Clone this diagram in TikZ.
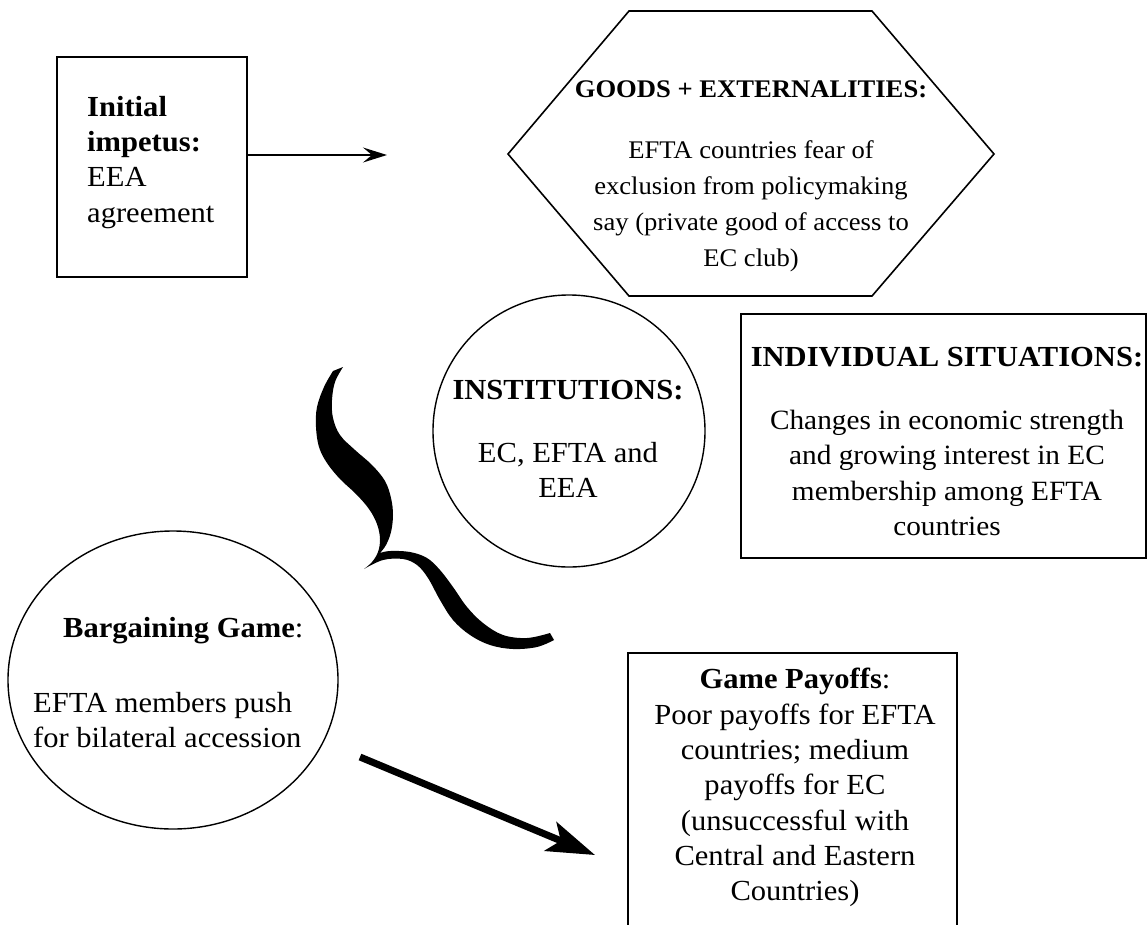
\documentclass[tikz,border=0pt]{standalone}
\usepackage{fontspec}
\setmainfont{Liberation Serif}[FakeStretch=1.05]
\usetikzlibrary{arrows.meta,shapes.geometric}
\newcommand\indivbodyfont{\fontsize{27.9}{34.7}\selectfont}
\begin{document}
\begin{tikzpicture}[x=1pt,y=-1pt,
  boxline/.style={draw, line width=1.6pt, inner sep=0pt},
  roundline/.style={draw, line width=1.4pt, inner sep=0pt},
  txt/.style={inner sep=0pt, font=\fontsize{29.1}{35.3}\selectfont},
  hextxt/.style={inner sep=0pt, font=\fontsize{25.35}{36}\selectfont},
  thinarrow/.style={line width=1.5pt, -{Stealth[length=24pt,width=15pt,inset=9pt]}},
  thickarrow/.style={line width=7pt, -{Stealth[length=48pt,width=31pt,inset=11pt]}},
  bracefill/.style={fill=black},
]
\useasboundingbox (0,0) rectangle (1148,924);
\fill[white] (0,0) rectangle (1148,924);

% ---------- shapes ----------
\node[boxline, rectangle, minimum width=190pt, minimum height=220pt] (init) at (152,167) {};
\draw[line width=1.6pt] (629,11) -- (872,11) -- (994,154) -- (872,296) -- (629,296) -- (508,154) -- cycle;
\node[roundline, circle, minimum size=272pt] (inst) at (569,431) {};
\node[boxline, rectangle, minimum width=405pt, minimum height=244pt] (indiv) at (943.5,436) {};
\node[roundline, ellipse, minimum width=330pt, minimum height=298pt] (barg) at (173,680) {};
\node[boxline, rectangle, minimum width=329pt, minimum height=290pt] (pay) at (792.5,798) {};

% ---------- texts ----------
\node[txt, anchor=west, align=left] (initT) at (87,162.3)
  {\textbf{Initial}\\\textbf{impetus:}\\EEA\\agreement};
\node[hextxt, align=center] (hexT) at (751,176.2)
  {\textbf{GOODS + EXTERNALITIES:}\\[25pt]EFTA countries fear of\\exclusion from policymaking\\say (private good of access to\\EC club)};
\node[txt, align=center] (instT) at (568,438.7)
  {\textbf{INSTITUTIONS:}\\[27.5pt]EC, EFTA and\\EEA};
\node[txt, align=center] (indivT) at (947,441.7)
  {\textbf{INDIVIDUAL SITUATIONS:}\\[27.5pt]{\indivbodyfont Changes in economic strength}\\{\indivbodyfont and growing interest in EC}\\{\indivbodyfont membership among EFTA}\\{\indivbodyfont countries}};
\node[txt, anchor=west, align=left] (bargT) at (33,682.7)
  {\hspace{30pt}\textbf{Bargaining Game}:\\[39.5pt]EFTA members push\\for bilateral accession};
\node[txt, align=center] (payT) at (795,787.7)
  {\textbf{Game Payoffs}:\\Poor payoffs for EFTA\\countries; medium\\payoffs for EC\\(unsuccessful with\\Central and Eastern\\Countries)};

% ---------- connectors ----------
\coordinate (a1end) at (387,155);
\draw[thinarrow] (init.east |- a1end) -- (a1end);
\coordinate (a2start) at (360,757);
\coordinate (a2end) at (595,855);
\draw[thickarrow] (a2start) -- (a2end);

% ---------- curly brace ----------
\fill[bracefill]
  plot[smooth, tension=0.6] coordinates {(333,371) (324,387) (317,407) (316,427) (319,447) (327,463) (340,479) (356,494) (369,509) (377,524) (380,539) (378,552) (372,562) (364,569)}
  -- plot[smooth, tension=0.6] coordinates {(364,569) (383,560) (403,559) (417,565) (428,578) (440,600) (453,620) (470,635) (490,645) (513,649) (537,647) (554,640)}
  -- (550,633)
  -- plot[smooth, tension=0.6] coordinates {(550,633) (527,638) (503,635) (483,623) (467,607) (453,587) (440,570) (427,558) (410,552) (390,551) (380,553)}
  -- plot[smooth, tension=0.6] coordinates {(380,553) (386,545) (391,532) (393,515) (391,498) (385,481) (372,465) (355,450) (340,435) (333,418) (332,400) (335,382) (343,367)}
  -- cycle;
\end{tikzpicture}
\end{document}
